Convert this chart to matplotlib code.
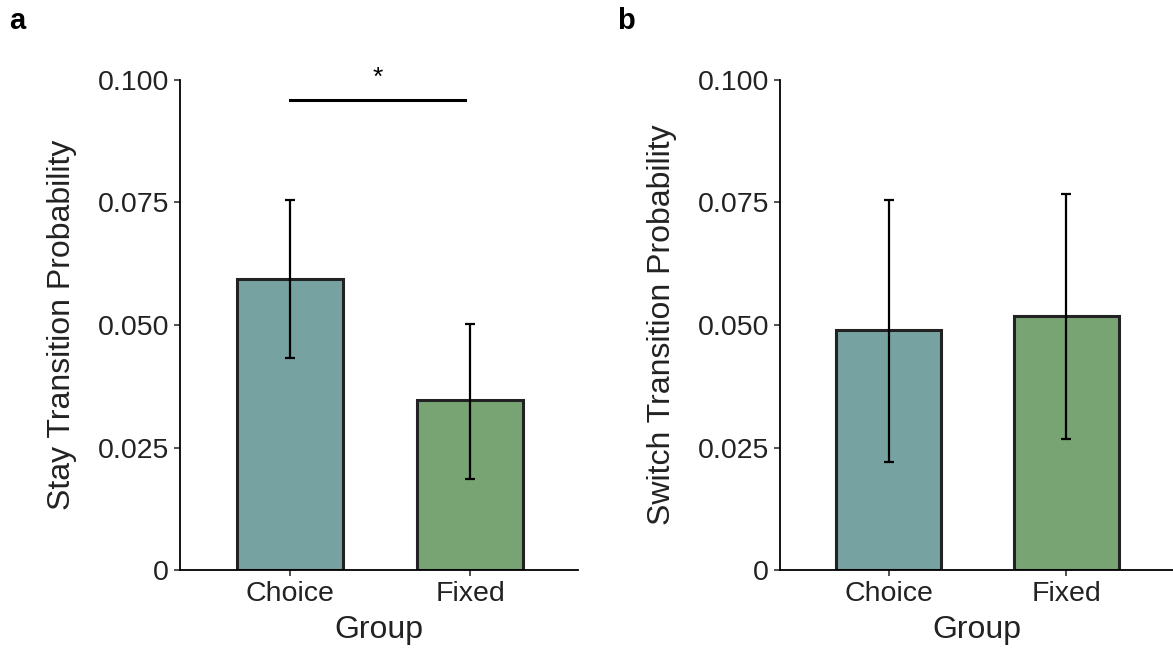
import matplotlib
matplotlib.use('Agg')
import matplotlib.pyplot as plt

groups = ['Choice', 'Fixed']
stay_mean = [0.0594, 0.0347]
stay_lo = [0.0433, 0.0186]
stay_hi = [0.0755, 0.0502]
switch_mean = [0.0490, 0.0519]
switch_lo = [0.0221, 0.0267]
switch_hi = [0.0755, 0.0768]
yticks = [0, 0.025, 0.05, 0.075, 0.1]
ytick_labels = ['0', '0.025', '0.050', '0.075', '0.100']
colors = ['#76a2a2', '#78a474']

plt.rcParams['font.family'] = ['Liberation Sans', 'DejaVu Sans']

fig = plt.figure(figsize=(11.73, 6.53), dpi=100)
ax_a = fig.add_axes([0.1535, 0.1271, 0.3393, 0.7504])
ax_b = fig.add_axes([0.665, 0.1271, 0.335, 0.7504])


def panel(ax, mean, lo, hi, ylabel):
    x = list(range(len(groups)))
    err = [[m - l for m, l in zip(mean, lo)], [h - m for m, h in zip(mean, hi)]]
    ax.bar(x, mean, width=0.59, color=colors, edgecolor='#222222', linewidth=2.2, zorder=2)
    ax.errorbar(x, mean, yerr=err, fmt='none', ecolor='black', elinewidth=1.6,
                capsize=3.8, capthick=1.6, zorder=3)
    ax.set_xlim(-0.61, 1.6)
    ax.set_ylim(0, 0.1)
    ax.set_yticks(yticks)
    ax.set_yticklabels(ytick_labels)
    ax.set_xticks(x)
    ax.set_xticklabels(groups)
    ax.spines['top'].set_visible(False)
    ax.spines['right'].set_visible(False)
    for s in ['left', 'bottom']:
        ax.spines[s].set_linewidth(1.3)
    ax.tick_params(axis='both', labelsize=20.5, length=4, width=1.1, colors='#222222',
                   labelcolor='#222222', pad=4)
    ax.set_xlabel('Group', fontsize=23, color='#222222', labelpad=6)
    ax.set_ylabel(ylabel, fontsize=23, color='#222222', labelpad=15)


panel(ax_a, stay_mean, stay_lo, stay_hi, 'Stay Transition Probability')
panel(ax_b, switch_mean, switch_lo, switch_hi, 'Switch Transition Probability')

# significance bar
ax_a.plot([0.0, 0.97], [0.096, 0.096], color='black', linewidth=2.2, clip_on=False)
ax_a.text(0.49, 0.1005, '*', ha='center', va='center', fontsize=19, clip_on=False)

fig.text(0.008, 0.968, 'a', fontsize=21, fontweight='bold', va='center')
fig.text(0.526, 0.968, 'b', fontsize=21, fontweight='bold', va='center')

fig.savefig('out.png', dpi=100)
